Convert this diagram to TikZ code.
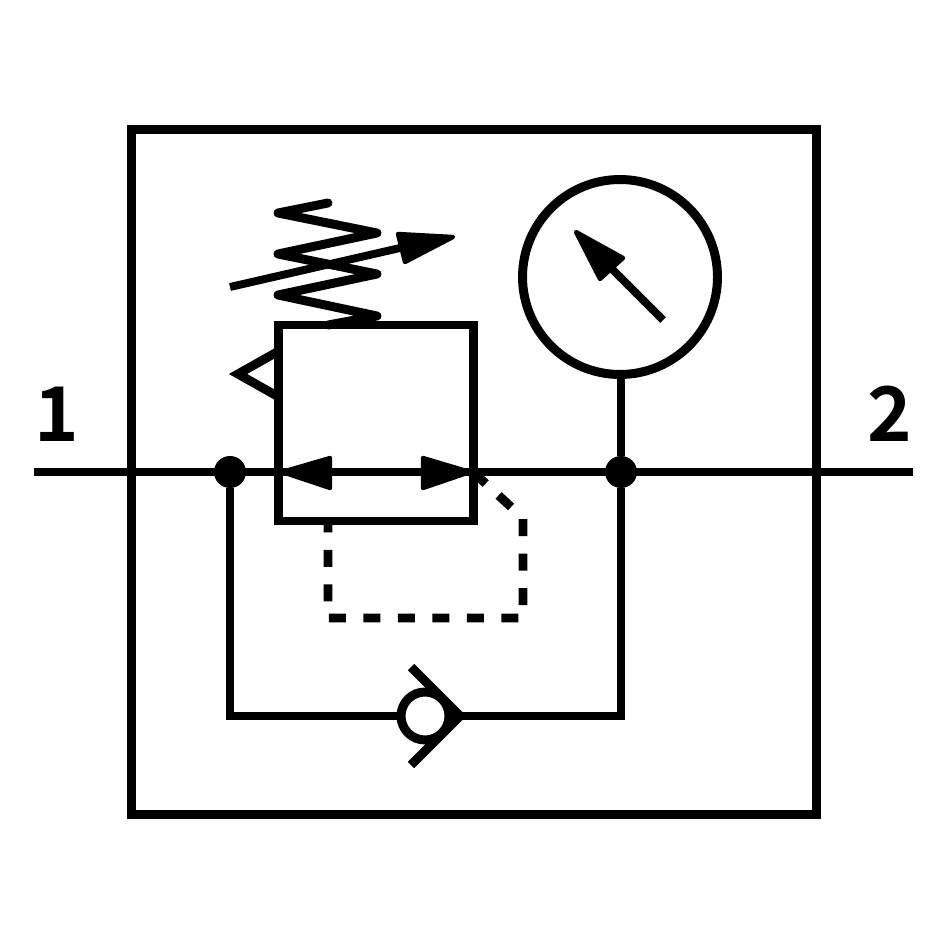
\documentclass[tikz,border=0pt]{standalone}
\usepackage{fontspec}
\newfontfamily\labelfont{Noto Sans CJK SC Bold}
\usetikzlibrary{arrows.meta}

\begin{document}
\begin{tikzpicture}[
    x=0.02cm,
    y=-0.02cm,
    line width=5.1pt,
    housing/.style={rectangle, draw=black, minimum width=13.72cm, minimum height=13.72cm, outer sep=0pt},
    valvebox/.style={rectangle, draw=black, fill=white, minimum width=3.89cm, minimum height=3.92cm, outer sep=0pt},
    gauge/.style={circle, draw=black, minimum size=3.9cm, outer sep=0pt},
    ball/.style={circle, draw=black, minimum size=0.96cm, outer sep=0pt},
    junction/.style={circle, fill=black, inner sep=0pt, minimum size=0.64cm, outer sep=0pt},
    port/.style={font=\labelfont, scale=4.3},
    head/.style={fill=black, draw=black, line width=2.5pt, line join=round},
    pilot/.style={dash pattern=on 0.34cm off 0.35cm}
]
\useasboundingbox (0,0) rectangle (945,945);
% Frame
\node[housing] (frame) at (474,472) {};
% Main line
\coordinate (inlet) at (34,472);
\coordinate (outlet) at (913,472);
\draw (inlet) -- (outlet);
\node[port] (label_in) at (57,414) {1};
\node[port] (label_out) at (890,414) {2};
% Regulator
\node[valvebox] (valve) at (376,423) {};
\draw (valve.west |- inlet) -- (valve.east |- inlet);
\draw[head] (282,472) -- (330,458) -- (330,488) -- cycle;
\draw[head] (470,472) -- (423,458) -- (423,488) -- cycle;
% Spring
\coordinate (spring_top) at (328,203);
\coordinate (spring_end) at (328,325);
\draw[line join=round, line cap=round] (spring_top) -- (278,213) -- (377,233) -- (278,254) -- (377,274) -- (278,295) -- (377,316) -- (spring_end);
\coordinate (adjust_start) at (230,287);
\coordinate (adjust_tip) at (453,237);
\draw[line width=4.5pt] (adjust_start) -- (400,248);
\draw[head] (adjust_tip) -- (398,234) -- (405,262) -- cycle;
% Pilot triangle
\draw[line join=miter] (valve.west |- 0,351) -- (238,374) -- (valve.west |- 0,397);
% Dashed pilot line
\coordinate (pilot_a) at (523,518);
\coordinate (pilot_b) at (523,618);
\coordinate (pilot_c) at (328,618);
\draw[pilot] (valve.east |- inlet) -- (pilot_a) -- (pilot_b) -- (pilot_c) -- (valve.south -| pilot_c);
% Gauge
\node[gauge] (meter) at (620,277) {};
\node[junction] (tee_out) at (621,472) {};
\draw (meter.south -| tee_out) -- (tee_out);
\coordinate (needle_end) at (663,320);
\draw[line width=4.5pt] (needle_end) -- (610,267);
\draw[head] (576,232) -- (623,258) -- (600,279) -- cycle;
% Bypass
\node[junction] (tee_in) at (230,472) {};
\node[ball] (check) at (425,716) {};
\coordinate (seat) at (460,716);
\draw[line join=miter] (tee_in) -- (230,716) -- (check);
\draw[line join=miter] (seat) -- (621,716) -- (tee_out);
\draw[line join=miter] (411,667) -- (seat) -- (411,765);
\end{tikzpicture}
\end{document}
